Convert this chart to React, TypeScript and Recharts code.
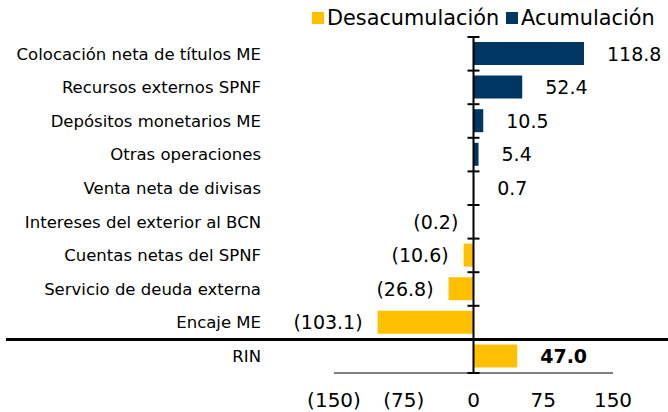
import React from 'react';
import { BarChart, Bar, XAxis, YAxis, Cell, LabelList, ReferenceLine } from 'recharts';

const categories = [
  'Colocación neta de títulos ME',
  'Recursos externos SPNF',
  'Depósitos monetarios ME',
  'Otras operaciones',
  'Venta neta de divisas',
  'Intereses del exterior al BCN',
  'Cuentas netas del SPNF',
  'Servicio de deuda externa',
  'Encaje ME',
  'RIN',
];
const values = [118.8, 52.4, 10.5, 5.4, 0.7, -0.2, -10.6, -26.8, -103.1, 47.0];
const groups = ['Acumulación', 'Acumulación', 'Acumulación', 'Acumulación', 'Acumulación', 'Desacumulación', 'Desacumulación', 'Desacumulación', 'Desacumulación', 'Desacumulación'];
const legendItems = ['Desacumulación', 'Acumulación'];
const xTicks = [-150, -75, 0, 75, 150];

const COLORS: Record<string, string> = { 'Desacumulación': '#FFC000', 'Acumulación': '#003662' };
const FONT = '"DejaVu Sans", Verdana, sans-serif';

const data = categories.map((c, i) => ({ name: c, value: values[i], group: groups[i] }));

const fmt = (v: number) => (v < 0 ? `(${Math.abs(v).toFixed(1)})` : v.toFixed(1));
const fmtTick = (v: number) => (v < 0 ? `(${Math.abs(v)})` : `${v}`);

const ValueLabel = (props: any) => {
  const { x, y, width, height, value, index } = props;
  const left = Math.min(x, x + width);
  const right = Math.max(x, x + width);
  const cy = y + height / 2;
  const isTotal = index === categories.length - 1;
  if (value < 0) {
    return (
      <text x={left - 15} y={cy} textAnchor="end" dominantBaseline="central" fontFamily={FONT} fontSize={19} fill="#000">
        {fmt(value)}
      </text>
    );
  }
  return (
    <text x={right + 23} y={cy} textAnchor="start" dominantBaseline="central" fontFamily={FONT} fontSize={19} fill="#000" fontWeight={isTotal ? 'bold' : 'normal'}>
      {fmt(value)}
    </text>
  );
};

const ZeroAxis = (props: any) => {
  const { x1 } = props;
  const top = Math.min(props.y1, props.y2);
  const bottom = Math.max(props.y1, props.y2);
  const n = categories.length;
  const band = (bottom - top) / n;
  const ticks = [];
  for (let i = 0; i <= n; i++) {
    const ty = top + band * i;
    ticks.push(<line key={i} x1={x1 - 6} x2={x1 + 6} y1={ty} y2={ty} stroke="#000" strokeWidth={2} />);
  }
  const sepY = top + band * (n - 1);
  return (
    <g>
      <line x1={6} x2={668} y1={sepY} y2={sepY} stroke="#000" strokeWidth={3} />
      <line x1={x1} x2={x1} y1={top} y2={bottom} stroke="#000" strokeWidth={2} />
      {ticks}
    </g>
  );
};

export default function App() {
  return (
    <div style={{ position: 'absolute', left: 0, top: 0, width: 668, height: 412, background: '#fff' }}>
      <div
        style={{
          position: 'absolute',
          top: 6,
          left: 312,
          display: 'flex',
          alignItems: 'center',
          fontFamily: FONT,
          fontSize: 20.8,
          color: '#000',
          whiteSpace: 'nowrap',
          zIndex: 2,
        }}
      >
        {legendItems.map((k) => (
          <span key={k} style={{ display: 'flex', alignItems: 'center', marginRight: 7 }}>
            <span style={{ display: 'inline-block', width: 12, height: 12, background: COLORS[k], marginRight: 3 }} />
            {k}
          </span>
        ))}
      </div>
      <BarChart
        width={668}
        height={412}
        data={data}
        layout="vertical"
        margin={{ top: 37, right: 55, bottom: 0, left: 0 }}
        barSize={23}
      >
        <XAxis
          type="number"
          domain={[-150, 150]}
          ticks={xTicks}
          tickFormatter={fmtTick}
          height={39}
          tickLine={false}
          tickSize={0}
          tickMargin={20}
          axisLine={{ stroke: '#000', strokeWidth: 1 }}
          tick={{ fontFamily: FONT, fontSize: 20, fill: '#000' }}
          interval={0}
        />
        <YAxis
          type="category"
          dataKey="name"
          width={334}
          axisLine={false}
          tickLine={false}
          tickSize={0}
          tickMargin={73}
          interval={0}
          tick={{ fontFamily: FONT, fontSize: 16.5, fill: '#000' }}
        />
        <Bar dataKey="value" isAnimationActive={false}>
          {data.map((d, i) => (
            <Cell key={i} fill={COLORS[d.group]} />
          ))}
          <LabelList dataKey="value" content={<ValueLabel />} />
        </Bar>
        <ReferenceLine x={0} stroke="#000" shape={<ZeroAxis />} />
      </BarChart>
    </div>
  );
}
